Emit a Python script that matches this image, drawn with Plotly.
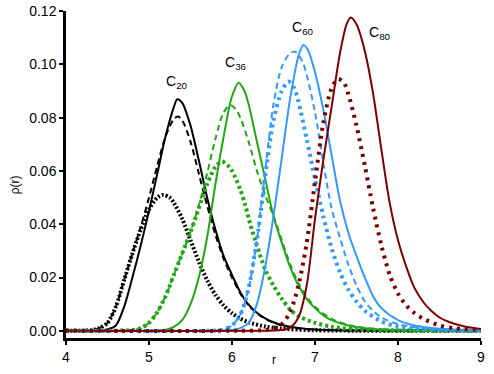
import plotly.graph_objects as go

# C20
c20_solid_r = [4.0, 4.4, 4.5, 4.6, 4.7, 4.8, 4.9, 5.0, 5.1, 5.2, 5.3, 5.34, 5.4, 5.5, 5.6, 5.7, 5.8, 5.9, 6.0, 6.1, 6.2, 6.3, 6.4, 6.5, 6.6, 6.8, 7.0, 7.5, 9.0]
c20_solid = [0, 0.0001, 0.0005, 0.002, 0.009, 0.020, 0.032, 0.045, 0.059, 0.073, 0.084, 0.0869, 0.0855, 0.077, 0.064, 0.050, 0.038, 0.028, 0.021, 0.0145, 0.0098, 0.0068, 0.0047, 0.0032, 0.0022, 0.0011, 0.0005, 0.0001, 0]
c20_dash_r = [4.0, 4.3, 4.4, 4.5, 4.6, 4.7, 4.8, 4.9, 5.0, 5.1, 5.2, 5.3, 5.35, 5.4, 5.5, 5.6, 5.7, 5.8, 5.9, 6.0, 6.1, 6.2, 6.3, 6.4, 6.6, 6.8, 7.0, 7.5, 9.0]
c20_dash = [0, 0.0002, 0.001, 0.003, 0.009, 0.019, 0.029, 0.039, 0.050, 0.062, 0.073, 0.0795, 0.0804, 0.079, 0.071, 0.059, 0.047, 0.036, 0.027, 0.020, 0.014, 0.0095, 0.0066, 0.0045, 0.002, 0.0009, 0.0004, 0.0001, 0]
c20_dot_r = [4.0, 4.3, 4.4, 4.5, 4.6, 4.7, 4.8, 4.9, 5.0, 5.1, 5.17, 5.25, 5.3, 5.4, 5.5, 5.6, 5.7, 5.8, 5.9, 6.0, 6.1, 6.2, 6.4, 6.6, 7.0, 7.5, 9.0]
c20_dot = [0, 0.0002, 0.001, 0.003, 0.009, 0.019, 0.029, 0.038, 0.0455, 0.050, 0.051, 0.050, 0.048, 0.042, 0.034, 0.026, 0.019, 0.0135, 0.0095, 0.0066, 0.0046, 0.0032, 0.0016, 0.0008, 0.0002, 0.00005, 0]

# C36
c36_solid_r = [4.0, 5.1, 5.2, 5.3, 5.4, 5.5, 5.6, 5.7, 5.8, 5.9, 6.0, 6.08, 6.15, 6.2, 6.3, 6.4, 6.5, 6.6, 6.7, 6.8, 6.9, 7.0, 7.1, 7.2, 7.4, 7.6, 8.0, 9.0]
c36_solid = [0, 0.0001, 0.0004, 0.0015, 0.004, 0.010, 0.020, 0.035, 0.055, 0.073, 0.088, 0.0931, 0.090, 0.085, 0.071, 0.057, 0.043, 0.033, 0.024, 0.017, 0.012, 0.0085, 0.0058, 0.004, 0.002, 0.001, 0.0002, 0]
c36_dash_r = [4.0, 4.8, 4.9, 5.0, 5.1, 5.2, 5.3, 5.4, 5.5, 5.6, 5.7, 5.8, 5.9, 5.98, 6.05, 6.1, 6.2, 6.3, 6.4, 6.5, 6.6, 6.7, 6.8, 6.9, 7.0, 7.2, 7.4, 7.6, 8.0, 9.0]
c36_dash = [0, 0.0003, 0.001, 0.003, 0.007, 0.013, 0.021, 0.029, 0.037, 0.047, 0.059, 0.072, 0.082, 0.0847, 0.083, 0.080, 0.071, 0.060, 0.051, 0.043, 0.034, 0.025, 0.018, 0.0128, 0.009, 0.0045, 0.0022, 0.0011, 0.0002, 0]
c36_dot_r = [4.0, 4.8, 4.9, 5.0, 5.1, 5.2, 5.3, 5.4, 5.5, 5.6, 5.7, 5.8, 5.88, 5.95, 6.0, 6.1, 6.16, 6.22, 6.3, 6.4, 6.5, 6.6, 6.7, 6.8, 7.0, 7.2, 7.5, 8.0, 9.0]
c36_dot = [0, 0.0003, 0.001, 0.003, 0.007, 0.013, 0.021, 0.029, 0.037, 0.046, 0.055, 0.0615, 0.0635, 0.062, 0.060, 0.053, 0.047, 0.040, 0.032, 0.023, 0.017, 0.012, 0.008, 0.0055, 0.003, 0.0015, 0.0006, 0.0001, 0]

# C60
c60_solid_r = [4.0, 5.9, 6.0, 6.1, 6.2, 6.3, 6.4, 6.5, 6.6, 6.7, 6.8, 6.86, 6.92, 7.0, 7.1, 7.2, 7.3, 7.4, 7.5, 7.6, 7.7, 7.8, 8.0, 8.2, 8.5, 9.0]
c60_solid = [0, 0.0001, 0.0003, 0.001, 0.003, 0.010, 0.024, 0.043, 0.065, 0.087, 0.103, 0.1072, 0.105, 0.097, 0.083, 0.066, 0.049, 0.037, 0.028, 0.020, 0.013, 0.0085, 0.004, 0.002, 0.0008, 0.0001]
c60_dash_r = [4.0, 5.8, 5.9, 6.0, 6.1, 6.2, 6.3, 6.4, 6.5, 6.6, 6.7, 6.76, 6.85, 6.9, 7.0, 7.1, 7.2, 7.3, 7.4, 7.5, 7.6, 7.7, 7.8, 8.0, 8.3, 8.6, 9.0]
c60_dash = [0, 0.0001, 0.0005, 0.002, 0.006, 0.016, 0.034, 0.060, 0.085, 0.099, 0.1042, 0.1047, 0.101, 0.096, 0.082, 0.063, 0.046, 0.035, 0.025, 0.017, 0.011, 0.0075, 0.005, 0.0025, 0.001, 0.0004, 0]
c60_dot_r = [4.0, 5.8, 5.9, 6.0, 6.1, 6.2, 6.3, 6.4, 6.5, 6.6, 6.68, 6.75, 6.8, 6.9, 7.0, 7.1, 7.2, 7.3, 7.4, 7.5, 7.6, 7.8, 8.0, 8.3, 8.6, 9.0]
c60_dot = [0, 0.0001, 0.0005, 0.002, 0.006, 0.016, 0.034, 0.058, 0.079, 0.090, 0.0935, 0.091, 0.086, 0.072, 0.057, 0.043, 0.031, 0.022, 0.0155, 0.011, 0.0075, 0.0035, 0.0016, 0.0005, 0.0001, 0]

# C80
c80_solid_r = [4.0, 6.5, 6.6, 6.7, 6.8, 6.9, 7.0, 7.1, 7.2, 7.3, 7.38, 7.43, 7.5, 7.6, 7.7, 7.8, 7.9, 8.0, 8.1, 8.2, 8.3, 8.4, 8.5, 8.6, 8.8, 9.0]
c80_solid = [0, 0.0001, 0.0003, 0.0012, 0.005, 0.017, 0.042, 0.064, 0.084, 0.104, 0.115, 0.1176, 0.115, 0.105, 0.089, 0.068, 0.048, 0.034, 0.024, 0.016, 0.011, 0.0075, 0.005, 0.0035, 0.0016, 0.0007]
c80_dot_r = [4.0, 6.3, 6.4, 6.5, 6.6, 6.7, 6.8, 6.9, 7.0, 7.1, 7.2, 7.28, 7.35, 7.4, 7.5, 7.6, 7.7, 7.8, 7.9, 8.0, 8.1, 8.2, 8.3, 8.5, 8.7, 9.0]
c80_dot = [0, 0.0001, 0.0003, 0.001, 0.0025, 0.007, 0.017, 0.033, 0.056, 0.078, 0.091, 0.0945, 0.093, 0.089, 0.077, 0.062, 0.046, 0.032, 0.021, 0.014, 0.0095, 0.0066, 0.0046, 0.002, 0.0009, 0.0003]

labels = ["C<sub>20</sub>", "C<sub>36</sub>", "C<sub>60</sub>", "C<sub>80</sub>"]
label_r = [5.34, 6.05, 6.86, 7.78]
label_rho = [0.0935, 0.1005, 0.1135, 0.1118]

black = "#000000"
green = "#22a614"
blue = "#3399ff"
dred = "#7a0000"

# dot spacing differs per family in the reference
dot_pattern = {black: "2px,2px", green: "3px,3px", blue: "3px,4px", dred: "3px,5px"}

series = [
    (c20_solid_r, c20_solid, black, "solid"),
    (c20_dash_r, c20_dash, black, "dash"),
    (c20_dot_r, c20_dot, black, "dot"),
    (c36_solid_r, c36_solid, green, "solid"),
    (c36_dash_r, c36_dash, green, "dash"),
    (c36_dot_r, c36_dot, green, "dot"),
    (c60_solid_r, c60_solid, blue, "solid"),
    (c60_dash_r, c60_dash, blue, "dash"),
    (c60_dot_r, c60_dot, blue, "dot"),
    (c80_solid_r, c80_solid, dred, "solid"),
    (c80_dot_r, c80_dot, dred, "dot"),
]

fig = go.Figure()
for r, rho, col, style in series:
    if style == "solid":
        line = dict(color=col, width=2)
    elif style == "dash":
        line = dict(color=col, width=2, dash="6px,4px")
    else:
        line = dict(color=col, width=4, dash=dot_pattern[col])
    line["shape"] = "spline"
    line["smoothing"] = 0.8
    fig.add_trace(go.Scatter(x=r, y=rho, mode="lines", line=line, showlegend=False))

for txt, x, y in zip(labels, label_r, label_rho):
    fig.add_annotation(x=x, y=y, text=txt, showarrow=False,
                       font=dict(size=14, color="black"))

# axis titles as annotations
fig.add_annotation(x=0.5, y=-0.067, xref="paper", yref="paper", text="r",
                   showarrow=False, yanchor="middle", font=dict(size=12, color="black"))
fig.add_annotation(x=-0.123, y=0.47, xref="paper", yref="paper", text="ρ(r)",
                   showarrow=False, textangle=-90, xanchor="center", yanchor="middle",
                   font=dict(size=12, color="black"))

fig.update_layout(
    width=494, height=374,
    margin=dict(l=66, r=13, t=11, b=36),
    paper_bgcolor="white", plot_bgcolor="white",
    font=dict(family="Liberation Sans, Arial, sans-serif", size=14, color="black"),
    xaxis=dict(range=[4, 9], tickvals=[4, 5, 6, 7, 8, 9], showgrid=False, zeroline=False,
               automargin=False,
               showline=True, linecolor="black", linewidth=2.5, ticks="outside",
               ticklen=4, tickwidth=2, tickcolor="black",
               tickfont=dict(size=14, color="black")),
    yaxis=dict(range=[-0.0027, 0.12], tickvals=[0, 0.02, 0.04, 0.06, 0.08, 0.10, 0.12],
               tickformat=".2f", showgrid=False, zeroline=False,
               automargin=False,
               showline=True, linecolor="black", linewidth=2.5, ticks="outside",
               ticklen=4, tickwidth=2, tickcolor="black",
               tickfont=dict(size=14, color="black")),
)

fig.write_html("out.html", config={"displayModeBar": False},
               post_script="document.body.style.margin='0';")
